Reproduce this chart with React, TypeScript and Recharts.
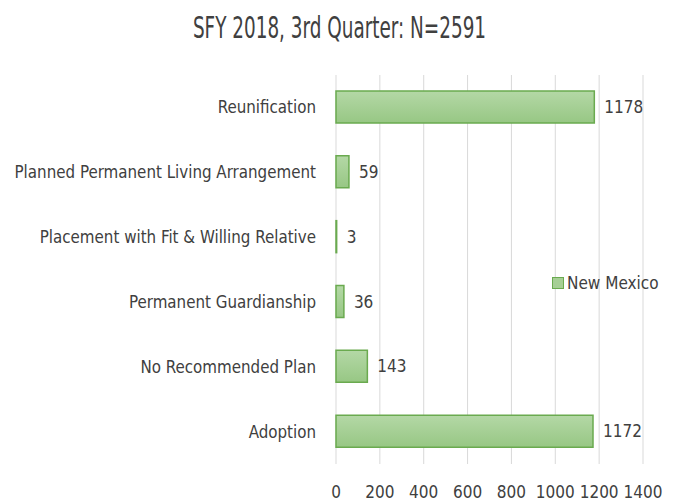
import React from "react";
import { BarChart, Bar, XAxis, YAxis, CartesianGrid, LabelList } from "recharts";

const categories = [
  "Reunification",
  "Planned Permanent Living Arrangement",
  "Placement with Fit & Willing Relative",
  "Permanent Guardianship",
  "No Recommended Plan",
  "Adoption",
];
const newMexico = [1178, 59, 3, 36, 143, 1172];
const xTicks = [0, 200, 400, 600, 800, 1000, 1200, 1400];
const seriesName = "New Mexico";

const chartData = categories.map((name, i) => ({ name, nm: newMexico[i] }));

const labelFont = "'DejaVu Sans Condensed', sans-serif";

export default function App() {
  return (
    <div style={{ position: "absolute", left: 0, top: 0, width: 679, height: 504, background: "#fff" }}>
      <div
        style={{
          position: "absolute",
          top: 9,
          left: 0,
          width: 679,
          textAlign: "center",
          fontFamily: "'DejaVu Sans Condensed', sans-serif",
          fontSize: 31,
          color: "#404040",
          transform: "scaleX(0.66)",
          lineHeight: "36px",
        }}
      >
        SFY 2018, 3rd Quarter: N=2591
      </div>
      <BarChart
        width={679}
        height={504}
        layout="vertical"
        data={chartData}
        margin={{ top: 75, right: 36, bottom: 0, left: 0 }}
      >
        <defs>
          <linearGradient id="nmFill" x1="0" y1="0" x2="0" y2="1">
            <stop offset="0%" stopColor="#b4d8a6" />
            <stop offset="100%" stopColor="#97c784" />
          </linearGradient>
        </defs>
        <CartesianGrid horizontal={false} stroke="#d9d9d9" />
        <XAxis
          type="number"
          domain={[0, 1400]}
          ticks={xTicks}
          axisLine={false}
          tickLine={false}
          height={40}
          tickMargin={16}
          interval={0}
          tick={{ fill: "#404040", fontSize: 17, fontFamily: labelFont }}
        />
        <YAxis
          type="category"
          dataKey="name"
          width={336}
          axisLine={false}
          tickLine={false}
          tickMargin={14}
          interval={0}
          tick={{ fill: "#404040", fontSize: 16.8, fontFamily: labelFont }}
        />
        <Bar
          dataKey="nm"
          name={seriesName}
          fill="url(#nmFill)"
          stroke="#6aaa4f"
          strokeWidth={1.5}
          barSize={32}
          isAnimationActive={false}
        >
          <LabelList
            dataKey="nm"
            position="right"
            offset={10}
            fill="#404040"
            style={{ fontSize: 17, fontFamily: labelFont }}
          />
        </Bar>
      </BarChart>
      <div
        style={{
          position: "absolute",
          left: 552,
          top: 273,
          display: "flex",
          alignItems: "center",
          fontFamily: labelFont,
          fontSize: 17,
          color: "#404040",
        }}
      >
        <span
          style={{
            display: "inline-block",
            width: 10,
            height: 10,
            background: "#a6cf95",
            border: "1px solid #6aaa4f",
            marginRight: 3,
          }}
        />
        {seriesName}
      </div>
    </div>
  );
}
